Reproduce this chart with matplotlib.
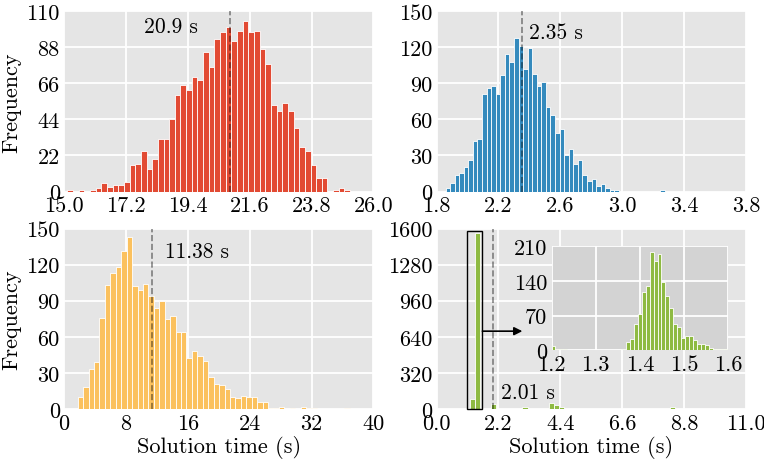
import numpy as np
import matplotlib
matplotlib.use("Agg")
import matplotlib.pyplot as plt
from matplotlib.patches import Rectangle

# ---------------------- Data ----------------------

# top-left: bins of width 0.201 starting at 15.12
tl_start, tl_width = 15.12, 0.201
tl_counts = [1, 0, 1, 0, 1, 2, 5, 3, 4, 4, 6, 16, 17, 25, 14, 20, 32, 32, 44, 59,
             65, 62, 70, 68, 85, 76, 93, 97, 100, 92, 98, 104, 97, 98, 87, 78, 53, 49, 54, 49,
             39, 27, 25, 16, 8, 8, 0, 1, 2, 1]
tl_mean = 20.9

# top-right
tr_start, tr_width = 1.858, 0.0295
tr_counts = [3, 7, 14, 15, 20, 26, 42, 44, 81, 86, 88, 81, 97, 114, 108, 128, 121, 102, 119, 98,
             88, 91, 70, 64, 49, 52, 30, 35, 23, 26, 14, 9, 10, 5, 6, 3, 1, 1, 0, 0,
             0, 0, 0, 0, 0, 0, 0, 1, 0, 0]
tr_mean = 2.35

# bottom-left
bl_start, bl_width = 1.77, 0.703
bl_counts = [10, 18, 33, 39, 76, 103, 113, 118, 131, 143, 102, 99, 104, 94, 84, 90, 75, 77, 64, 64,
             42, 48, 44, 40, 27, 21, 20, 17, 10, 9, 11, 10, 10, 6, 6, 1, 1, 2, 0, 1,
             0, 2, 1, 1, 0, 0, 0, 0, 0, 1]
bl_mean = 11.38

# bottom-right (main)
br_start, br_width = 1.18, 0.187
br_counts = [90, 1560, 0, 0, 45, 0, 0, 0, 0, 0, 20, 0, 0, 0, 0, 55, 35, 15, 0, 0,
             0, 0, 0, 0, 0, 0, 0, 0, 0, 0, 0, 0, 0, 0, 0, 0, 0, 0, 15, 0]
br_mean = 2.01

# bottom-right inset, 45 bins over 1.2 - 1.6
in_start, in_width = 1.2, 0.4 / 45
in_counts = [9, 3, 2, 3, 1, 0, 0, 0, 0, 0, 0, 0, 0, 0, 0, 0, 1, 0, 3, 16,
             22, 54, 74, 118, 130, 199, 181, 194, 137, 110, 86, 53, 48, 25, 28, 28, 20, 13, 13, 11,
             4, 2, 2, 2, 2]

tl_xticks = [15.0, 17.2, 19.4, 21.6, 23.8, 26.0]
tl_yticks = [0, 22, 44, 66, 88, 110]
tr_xticks = [1.8, 2.2, 2.6, 3.0, 3.4, 3.8]
tr_yticks = [0, 30, 60, 90, 120, 150]
bl_xticks = [0, 8, 16, 24, 32, 40]
bl_yticks = [0, 30, 60, 90, 120, 150]
br_xticks = [0.0, 2.2, 4.4, 6.6, 8.8, 11.0]
br_yticks = [0, 320, 640, 960, 1280, 1600]
in_xticks = [1.2, 1.3, 1.4, 1.5, 1.6]
in_yticks = [0, 70, 140, 210]

# ---------------------- Style ----------------------

plt.rcParams['font.family'] = 'cmr10'
plt.rcParams['mathtext.fontset'] = 'cm'
plt.rcParams['axes.formatter.use_mathtext'] = True
plt.rcParams['font.size'] = 15.5
plt.rcParams['axes.labelsize'] = 16

RED, BLUE, YELLOW, GREEN = '#E24A33', '#348ABD', '#FBC15E', '#8EBA42'


def style_axes(ax, xticks, yticks, xfmt, face='#E5E5E5'):
    ax.set_facecolor(face)
    for s in ax.spines.values():
        s.set_visible(False)
    ax.set_xticks(xticks)
    ax.set_xticklabels([xfmt.format(t) for t in xticks])
    ax.set_yticks(yticks)
    ax.set_yticklabels([str(t) for t in yticks])
    ax.tick_params(length=0, labelsize=16, colors='black')
    ax.tick_params(axis='x', pad=3)
    ax.tick_params(axis='y', pad=3)
    ax.grid(True, color='white', linewidth=1.3)
    ax.set_axisbelow(True)


def draw_hist(ax, start, width, counts, color):
    edges = start + width * np.arange(len(counts))
    ax.bar(edges, counts, width=width, align='edge', color=color,
           edgecolor='white', linewidth=0.6)


fig = plt.figure(figsize=(7.64, 4.64), dpi=100)
axes = fig.subplots(2, 2)
fig.subplots_adjust(left=0.0838, right=0.9764, top=0.974, bottom=0.1164,
                    wspace=0.204, hspace=0.205)
ax_tl, ax_tr = axes[0]
ax_bl, ax_br = axes[1]

# ---------------------- Top-left ----------------------
draw_hist(ax_tl, tl_start, tl_width, tl_counts, RED)
style_axes(ax_tl, tl_xticks, tl_yticks, '{:.1f}')
ax_tl.set_xlim(15, 26)
ax_tl.set_ylim(0, 110)
ax_tl.axvline(tl_mean, color='k', alpha=0.45, ls='--', lw=1.2)
ax_tl.text(19.75, 101, f'{tl_mean} s', ha='right', va='center')
ax_tl.set_ylabel('Frequency', labelpad=4)

# ---------------------- Top-right ----------------------
draw_hist(ax_tr, tr_start, tr_width, tr_counts, BLUE)
style_axes(ax_tr, tr_xticks, tr_yticks, '{:.1f}')
ax_tr.set_xlim(1.8, 3.8)
ax_tr.set_ylim(0, 150)
ax_tr.axvline(tr_mean, color='k', alpha=0.45, ls='--', lw=1.2)
ax_tr.text(2.40, 132, f'{tr_mean} s', ha='left', va='center')

# ---------------------- Bottom-left ----------------------
draw_hist(ax_bl, bl_start, bl_width, bl_counts, YELLOW)
style_axes(ax_bl, bl_xticks, bl_yticks, '{:d}')
ax_bl.set_xlim(0, 40)
ax_bl.set_ylim(0, 150)
ax_bl.axvline(bl_mean, color='k', alpha=0.45, ls='--', lw=1.2)
ax_bl.text(13.0, 131, f'{bl_mean} s', ha='left', va='center')
ax_bl.set_ylabel('Frequency', labelpad=4)
ax_bl.set_xlabel('Solution time (s)', labelpad=2)

# ---------------------- Bottom-right ----------------------
draw_hist(ax_br, br_start, br_width, br_counts, GREEN)
style_axes(ax_br, br_xticks, br_yticks, '{:.1f}')
ax_br.set_xlim(0, 11)
ax_br.set_ylim(0, 1600)
ax_br.axvline(br_mean, color='k', alpha=0.45, ls='--', lw=1.2)
ax_br.text(2.30, 150, f'{br_mean} s', ha='left', va='center')
ax_br.set_xlabel('Solution time (s)', labelpad=2)

# zoom box and arrow
ax_br.add_patch(Rectangle((1.10, 0), 0.53, 1580, fill=False, edgecolor='black',
                          linewidth=1.0, zorder=3, clip_on=False))
ax_br.annotate('', xy=(3.05, 690), xytext=(1.63, 690),
               arrowprops=dict(arrowstyle='-|>', color='black', lw=1.2,
                               mutation_scale=12, shrinkA=0, shrinkB=0))

# inset
ax_in = fig.add_axes([0.7219, 0.2429, 0.2313, 0.2241])
draw_hist(ax_in, in_start, in_width, in_counts, GREEN)
style_axes(ax_in, in_xticks, in_yticks, '{:.1f}', face='#D3D3D3')
ax_in.set_xlim(1.2, 1.6)
ax_in.set_ylim(0, 210)

plt.savefig('out.png', dpi=100)
